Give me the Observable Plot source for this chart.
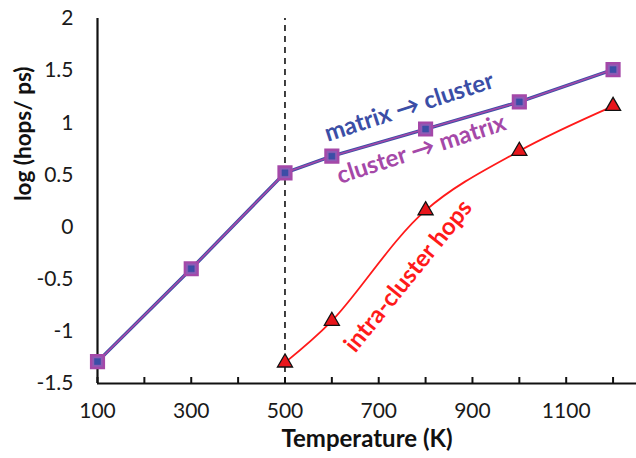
<!DOCTYPE html>
<html>
<head>
<meta charset="utf-8">
<script src="https://cdn.jsdelivr.net/npm/d3@7"></script>
<script src="https://cdn.jsdelivr.net/npm/@observablehq/plot@0.6"></script>
<style>
  html, body { margin: 0; padding: 0; background: #fff; }
  #chart svg { display: block; }
</style>
</head>
<body>
<div id="chart"></div>
<script>
// Data
const temps = [100, 300, 500, 600, 800, 1000, 1200];
const matrixToCluster = [-1.29, -0.40, 0.52, 0.68, 0.94, 1.20, 1.51];
const clusterToMatrix = [-1.29, -0.40, 0.52, 0.68, 0.94, 1.20, 1.51];
const intraTemps = [500, 600, 800, 1000, 1200];
const intraHops = [-1.30, -0.90, 0.16, 0.73, 1.16];
const xTickLabels = [100, 300, 500, 700, 900, 1100];
const xTickMarks = [100, 200, 300, 400, 500, 600, 700, 800, 900, 1000, 1100, 1200];
const yTicks = [-1.5, -1, -0.5, 0, 0.5, 1, 1.5, 2];
const transitionTemp = 500;

const mc = temps.map((t, i) => ({t, v: matrixToCluster[i]}));
const cm = temps.map((t, i) => ({t, v: clusterToMatrix[i]}));
const intra = intraTemps.map((t, i) => ({t, v: intraHops[i]}));

const blue = "#3b4ea6";
const purple = "#a548a8";
const red = "#ff1a1a";
const font = "Lato, 'Open Sans', sans-serif";

const chart = Plot.plot({
  width: 636,
  height: 458,
  marginLeft: 97,
  marginRight: 0,
  marginTop: 18,
  marginBottom: 75,
  style: {fontFamily: font, fontSize: "21px", color: "#1a1a1a", background: "#fff"},
  x: {domain: [100, 1250]},
  y: {domain: [-1.5, 2]},
  marks: [
    Plot.axisY({ticks: yTicks, tickSize: 0, tickPadding: 24, tickFormat: d => String(d), label: null, fontSize: 21}),
    Plot.axisX({ticks: xTickLabels, tickSize: 0, tickPadding: 20, tickFormat: d => String(d), label: null, fontSize: 21}),
    Plot.axisX({ticks: xTickMarks, tickSize: -6, tickFormat: () => "", label: null, strokeWidth: 2, stroke: "#111"}),
    Plot.ruleX([transitionTemp], {y1: -1.5, y2: 2, stroke: "#111", strokeWidth: 1.6, strokeDasharray: "6,5"}),
    Plot.ruleX([100], {y1: -1.5, y2: 2, stroke: "#111", strokeWidth: 2.2}),
    Plot.ruleY([-1.5], {stroke: "#111", strokeWidth: 2.2}),
    // series lines
    Plot.line(mc, {x: "t", y: "v", stroke: blue, strokeWidth: 3.4}),
    Plot.line(cm, {x: "t", y: "v", stroke: purple, strokeWidth: 1.6}),
    Plot.line(intra, {x: "t", y: "v", stroke: red, strokeWidth: 1.8, curve: "catmull-rom"}),
    // markers
    Plot.dot(cm, {x: "t", y: "v", symbol: "square", r: 7.2, fill: "#8e5bb5", stroke: purple, strokeWidth: 2.4}),
    Plot.dot(mc, {x: "t", y: "v", symbol: "square", r: 3.4, fill: blue, stroke: blue, strokeWidth: 0.5}),
    Plot.dot(intra, {x: "t", y: "v", symbol: "triangle", r: 5.6, fill: "#e8161c", stroke: "#111", strokeWidth: 1.3}),
    // annotations
    Plot.text(["matrix \u2192 cluster"], {x: 765, y: 1.15, rotate: -18, fill: blue, fontWeight: "bold", fontSize: 24, fontFamily: font}),
    Plot.text(["cluster \u2192 matrix"], {x: 791, y: 0.745, rotate: -18, fill: purple, fontWeight: "bold", fontSize: 24, fontFamily: font}),
    Plot.text(["intra-cluster hops"], {x: 763, y: -0.47, rotate: -51, fill: red, fontWeight: "bold", fontSize: 24, fontFamily: font}),
    // axis titles
    Plot.text(["Temperature (K)"], {frameAnchor: "bottom", dy: 63, fontWeight: "bold", fontSize: 24, fill: "#111", fontFamily: font}),
    Plot.text(["log (hops/ ps)"], {frameAnchor: "left", dx: -74, rotate: -90, fontWeight: "bold", fontSize: 22.5, fill: "#111", fontFamily: font})
  ]
});
document.getElementById("chart").appendChild(chart);
</script>
</body>
</html>
